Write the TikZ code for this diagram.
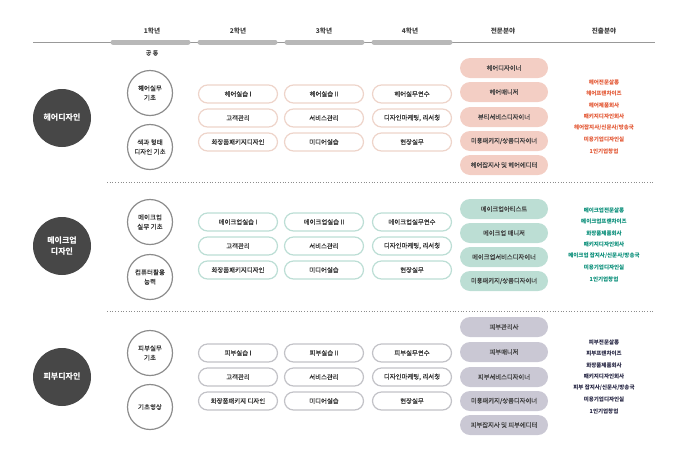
\documentclass[tikz,border=0pt]{standalone}
\usepackage{fontspec}
\usepackage{xcolor}
\setmainfont{Noto Sans CJK KR}
\newfontfamily\krmed{Noto Sans CJK KR}[FakeBold=0.4]
\usetikzlibrary{shapes.misc}

\definecolor{hairline}{RGB}{238,212,202}
\definecolor{hairfill}{RGB}{243,206,196}
\definecolor{hairtext}{RGB}{226,84,48}
\definecolor{makeline}{RGB}{188,222,213}
\definecolor{makefill}{RGB}{188,222,212}
\definecolor{maketext}{RGB}{0,138,116}
\definecolor{skinline}{RGB}{194,194,199}
\definecolor{skinfill}{RGB}{202,200,212}
\definecolor{skintext}{RGB}{34,34,64}

\tikzset{
  headtxt/.style={font=\bfseries\fontsize{6.6}{8}\selectfont, text=black!75},
  bigdot/.style={circle, fill=black!72, minimum size=58, inner sep=0, align=center, text=white, font=\bfseries\fontsize{8}{10.5}\selectfont},
  basecirc/.style={circle, draw=black!45, line width=1.2, fill=white, minimum size=45, inner sep=0, align=center, font=\krmed\fontsize{6.5}{9.5}\selectfont, text=black!80},
  coursebox/.style={rounded rectangle, draw=#1, line width=1.2, fill=white, minimum width=79, minimum height=18, inner sep=0, font=\krmed\fontsize{6.4}{8}\selectfont, text=black!80},
  fieldbox/.style={rounded rectangle, fill=#1, minimum width=88, minimum height=20, inner sep=0, font=\krmed\fontsize{6.3}{8}\selectfont, text=black!75},
  careertxt/.style={font=\bfseries\fontsize{5.5}{7}\selectfont, text=#1, inner sep=0.5},
}

\begin{document}
\begin{tikzpicture}[x=1pt,y=1pt,yscale=-1]
  \path[use as bounding box] (0,0) rectangle (687,464);

  %Header line and year bars
  \draw [black!40, line width=0.6] (33,42) -- (655,42) ;
  \draw [black!28, line width=5, line cap=round] (113,42) -- (188,42) ;
  \draw [black!28, line width=5, line cap=round] (200,42) -- (275,42) ;
  \draw [black!28, line width=5, line cap=round] (287,42) -- (362,42) ;
  \draw [black!28, line width=5, line cap=round] (374,42) -- (450,42) ;

  % Header Text
  \node [headtxt] (yr1) at (152,31) {1학년};
  \node [headtxt] (yr2) at (238,31) {2학년};
  \node [headtxt] (yr3) at (324,31) {3학년};
  \node [headtxt] (yr4) at (410,31) {4학년};
  \node [headtxt] (major) at (503,31) {전문분야};
  \node [headtxt] (career) at (604,31) {진출분야};
  \node [font=\krmed\fontsize{6}{8}\selectfont, text=black!75] (common) at (152,53) {공 통};

  %Separators
  \draw [black!45, line width=0.7, dotted] (107,182) -- (655,182) ;
  \draw [black!45, line width=0.7, dotted] (107,311) -- (655,311) ;

  %Section: hair
  \node [bigdot] (hair) at (62,118) {헤어디자인};
  \node [basecirc] (hairbase) at (150,93) {헤어실무\\기초};
  \node [basecirc] (colorbase) at (150,147) {색과 형태\\디자인 기초};
  \node [coursebox=hairline] (hairA) at (238,94) {헤어실습 I};
  \node [coursebox=hairline] (hairB) at (238,118) {고객관리};
  \node [coursebox=hairline] (hairC) at (238,142) {화장품패키지디자인};
  \node [coursebox=hairline] (hairD) at (324,94) {헤어실습 II};
  \node [coursebox=hairline] (hairE) at (324,118) {서비스관리};
  \node [coursebox=hairline] (hairF) at (324,142) {미디어실습};
  \node [coursebox=hairline] (hairG) at (412,94) {헤어실무연수};
  \node [coursebox=hairline] (hairH) at (412,118) {디자인마케팅, 리서칭};
  \node [coursebox=hairline] (hairI) at (412,142) {현장실무};
  \node [fieldbox=hairfill] (hairF1) at (504,68) {헤어디자이너};
  \node [fieldbox=hairfill] (hairF2) at (504,92) {헤어매니저};
  \node [fieldbox=hairfill] (hairF3) at (504,117) {뷰티서비스디자이너};
  \node [fieldbox=hairfill] (hairF4) at (504,141) {미용패키지/상품디자이너};
  \node [fieldbox=hairfill] (hairF5) at (504,165) {헤어잡지사 및 헤어에디터};
  \node [careertxt=hairtext] (hairC1) at (604,82) {헤어전문살롱};
  \node [careertxt=hairtext] (hairC2) at (604,93.5) {헤어프랜차이즈};
  \node [careertxt=hairtext] (hairC3) at (604,105) {헤어제품회사};
  \node [careertxt=hairtext] (hairC4) at (604,116.5) {패키지디자인회사};
  \node [careertxt=hairtext] (hairC5) at (604,128) {헤어잡지사/신문사/방송국};
  \node [careertxt=hairtext] (hairC6) at (604,139.5) {미용기업디자인실};
  \node [careertxt=hairtext] (hairC7) at (604,151) {1인기업창업};

  %Section: make-up
  \node [bigdot] (make) at (62,246) {메이크업\\디자인};
  \node [basecirc] (makebase) at (150,222) {메이크업\\실무 기초};
  \node [basecirc] (pcbase) at (150,277) {컴퓨터활용\\능력};
  \node [coursebox=makeline] (makeA) at (238,222) {메이크업실습 I};
  \node [coursebox=makeline] (makeB) at (238,246) {고객관리};
  \node [coursebox=makeline] (makeC) at (238,270) {화장품패키지디자인};
  \node [coursebox=makeline] (makeD) at (324,222) {메이크업실습 II};
  \node [coursebox=makeline] (makeE) at (324,246) {서비스관리};
  \node [coursebox=makeline] (makeF) at (324,270) {미디어실습};
  \node [coursebox=makeline] (makeG) at (412,222) {메이크업실무연수};
  \node [coursebox=makeline] (makeH) at (412,246) {디자인마케팅, 리서칭};
  \node [coursebox=makeline] (makeI) at (412,270) {현장실무};
  \node [fieldbox=makefill] (makeF1) at (504,209) {메이크업아티스트};
  \node [fieldbox=makefill] (makeF2) at (504,233) {메이크업 매니저};
  \node [fieldbox=makefill] (makeF3) at (504,257) {메이크업서비스디자이너};
  \node [fieldbox=makefill] (makeF4) at (504,281) {미용패키지/상품디자이너};
  \node [careertxt=maketext] (makeC1) at (604,210) {메이크업전문살롱};
  \node [careertxt=maketext] (makeC2) at (604,221.5) {메이크업프랜차이즈};
  \node [careertxt=maketext] (makeC3) at (604,233) {화장품제품회사};
  \node [careertxt=maketext] (makeC4) at (604,244.5) {패키지디자인회사};
  \node [careertxt=maketext] (makeC5) at (604,256) {메이크업 잡지사/신문사/방송국};
  \node [careertxt=maketext] (makeC6) at (604,267.5) {미용기업디자인실};
  \node [careertxt=maketext] (makeC7) at (604,279) {1인기업창업};

  %Section: skin
  \node [bigdot] (skin) at (62,377) {피부디자인};
  \node [basecirc] (skinbase) at (150,353) {피부실무\\기초};
  \node [basecirc] (videobase) at (150,407) {기초영상};
  \node [coursebox=skinline] (skinA) at (238,353) {피부실습 I};
  \node [coursebox=skinline] (skinB) at (238,377) {고객관리};
  \node [coursebox=skinline] (skinC) at (238,401) {화장품패키지 디자인};
  \node [coursebox=skinline] (skinD) at (324,353) {피부실습 II};
  \node [coursebox=skinline] (skinE) at (324,377) {서비스관리};
  \node [coursebox=skinline] (skinF) at (324,401) {미디어실습};
  \node [coursebox=skinline] (skinG) at (412,353) {피부실무연수};
  \node [coursebox=skinline] (skinH) at (412,377) {디자인마케팅, 리서칭};
  \node [coursebox=skinline] (skinI) at (412,401) {현장실무};
  \node [fieldbox=skinfill] (skinF1) at (504,327) {피부관리사};
  \node [fieldbox=skinfill] (skinF2) at (504,352) {피부매니저};
  \node [fieldbox=skinfill] (skinF3) at (504,377) {피부서비스디자이너};
  \node [fieldbox=skinfill] (skinF4) at (504,401) {미용패키지/상품디자이너};
  \node [fieldbox=skinfill] (skinF5) at (504,425) {피부잡지사 및 피부에디터};
  \node [careertxt=skintext] (skinC1) at (604,342) {피부전문살롱};
  \node [careertxt=skintext] (skinC2) at (604,353.5) {피부프랜차이즈};
  \node [careertxt=skintext] (skinC3) at (604,365) {화장품제품회사};
  \node [careertxt=skintext] (skinC4) at (604,376.5) {패키지디자인회사};
  \node [careertxt=skintext] (skinC5) at (604,388) {피부 잡지사/신문사/방송국};
  \node [careertxt=skintext] (skinC6) at (604,399.5) {미용기업디자인실};
  \node [careertxt=skintext] (skinC7) at (604,411) {1인기업창업};

\end{tikzpicture}
\end{document}
